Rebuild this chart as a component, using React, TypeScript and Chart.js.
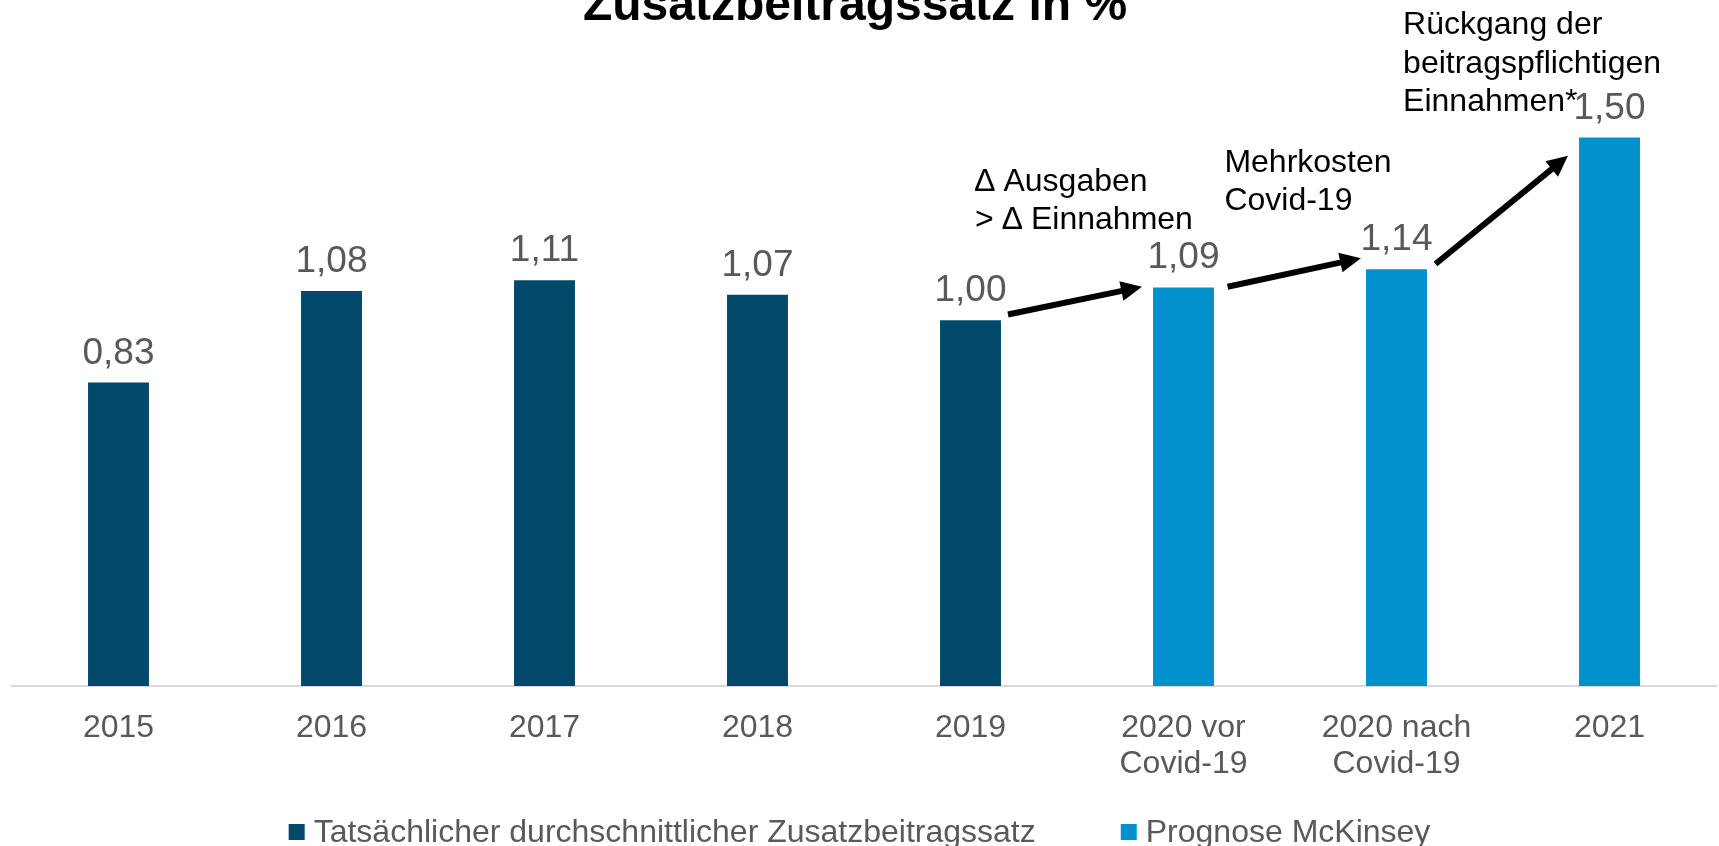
import React, { useEffect, useRef } from "react";
import { Chart, registerables } from "chart.js";

Chart.register(...registerables);

// ---- data ----
const categories: (string | string[])[] = [
  "2015",
  "2016",
  "2017",
  "2018",
  "2019",
  ["2020 vor", "Covid-19"],
  ["2020 nach", "Covid-19"],
  "2021",
];
const actualLabel = "Tatsächlicher durchschnittlicher Zusatzbeitragssatz";
const forecastLabel = "Prognose McKinsey";
const actualValues: (number | null)[] = [0.83, 1.08, 1.11, 1.07, 1.0, null, null, null];
const forecastValues: (number | null)[] = [null, null, null, null, null, 1.09, 1.14, 1.5];
const titleText = "Zusatzbeitragssatz in %";

// annotation texts, anchored at [category index, value of first baseline]
const annotationTexts = [
  { lines: ["∆ Ausgaben", "> ∆ Einnahmen"], at: [4.021, 1.355] },
  { lines: ["Mehrkosten", "Covid-19"], at: [5.192, 1.407] },
  { lines: ["Rückgang der", "beitragspflichtigen", "Einnahmen*"], at: [6.031, 1.782] },
];
// arrows, in [category index, value]
const arrows = [
  { from: [4.176, 1.016], to: [4.805, 1.092] },
  { from: [5.207, 1.092], to: [5.833, 1.17] },
  { from: [6.183, 1.154], to: [6.805, 1.45] },
];

// ---- styles ----
const FONT = '"Liberation Sans", Arial, Helvetica, sans-serif';
const DARK = "#01486A";
const LIGHT = "#0091CD";
const GREY_TEXT = "#595959";
const TITLE_SHIFT = -9;

const overlayPlugin = {
  id: "overlay",
  afterLayout(chart: any) {
    const t = chart.titleBlock;
    if (t) {
      t.left += TITLE_SHIFT;
      t.right += TITLE_SHIFT;
    }
  },
  afterDraw(chart: any) {
    const ctx: CanvasRenderingContext2D = chart.ctx;
    const xs = chart.scales.x;
    const ys = chart.scales.y;
    ctx.save();

    // value labels
    ctx.font = `37px ${FONT}`;
    ctx.fillStyle = GREY_TEXT;
    ctx.textAlign = "center";
    ctx.textBaseline = "alphabetic";
    chart.data.datasets.forEach((ds: any, di: number) => {
      const meta = chart.getDatasetMeta(di);
      meta.data.forEach((el: any, i: number) => {
        const v = ds.data[i];
        if (v === null || v === undefined) return;
        ctx.fillText(Number(v).toFixed(2).replace(".", ","), el.x, el.y - 19);
      });
    });

    // annotation texts
    ctx.fillStyle = "#000";
    ctx.font = `32px ${FONT}`;
    ctx.textAlign = "left";
    annotationTexts.forEach((a) => {
      const px = xs.getPixelForValue(a.at[0]);
      const py = ys.getPixelForValue(a.at[1]);
      a.lines.forEach((l, k) => ctx.fillText(l, px, py + k * 38.5));
    });

    // arrows
    ctx.strokeStyle = "#000";
    ctx.lineWidth = 6;
    ctx.lineCap = "butt";
    arrows.forEach((a) => {
      const x1 = xs.getPixelForValue(a.from[0]);
      const y1 = ys.getPixelForValue(a.from[1]);
      const x2 = xs.getPixelForValue(a.to[0]);
      const y2 = ys.getPixelForValue(a.to[1]);
      const ang = Math.atan2(y2 - y1, x2 - x1);
      const c = Math.cos(ang);
      const s = Math.sin(ang);
      const hl = 21;
      const hw = 10;
      const bx = x2 - hl * c;
      const by = y2 - hl * s;
      ctx.beginPath();
      ctx.moveTo(x1, y1);
      ctx.lineTo(bx + c * 2, by + s * 2);
      ctx.stroke();
      ctx.beginPath();
      ctx.moveTo(x2, y2);
      ctx.lineTo(bx - hw * s, by + hw * c);
      ctx.lineTo(bx + hw * s, by - hw * c);
      ctx.closePath();
      ctx.fill();
    });

    // legend
    const box = 16;
    const boxGap = 9;
    const itemGap = 85;
    ctx.font = `32px ${FONT}`;
    const items = chart.data.datasets.map((ds: any) => ({
      text: ds.label as string,
      color: ds.backgroundColor as string,
      w: ctx.measureText(ds.label).width,
    }));
    const total =
      items.reduce((acc: number, it: any) => acc + box + boxGap + it.w, 0) +
      itemGap * (items.length - 1);
    let lx = chart.width / 2 - total / 2;
    const baseY = 842;
    ctx.textAlign = "left";
    ctx.textBaseline = "alphabetic";
    items.forEach((it: any) => {
      ctx.fillStyle = it.color;
      ctx.fillRect(lx, baseY - 18, box, box);
      ctx.fillStyle = GREY_TEXT;
      ctx.fillText(it.text, lx + box + boxGap, baseY);
      lx += box + boxGap + it.w + itemGap;
    });

    ctx.restore();
  },
};

export default function App() {
  const canvasRef = useRef<HTMLCanvasElement | null>(null);

  useEffect(() => {
    document.body.style.margin = "0";
    document.body.style.overflow = "hidden";
    const canvas = canvasRef.current;
    if (!canvas) return;
    const chart = new Chart(canvas, {
      type: "bar",
      data: {
        labels: categories as any,
        datasets: [
          {
            label: actualLabel,
            data: actualValues as any,
            backgroundColor: DARK,
            grouped: false,
            barPercentage: 0.286,
            categoryPercentage: 1,
          } as any,
          {
            label: forecastLabel,
            data: forecastValues as any,
            backgroundColor: LIGHT,
            grouped: false,
            barPercentage: 0.286,
            categoryPercentage: 1,
          } as any,
        ],
      },
      options: {
        responsive: false,
        animation: false,
        layout: { padding: { top: -17.6, left: 12, right: 3, bottom: 40 } },
        plugins: {
          legend: { display: false },
          tooltip: { enabled: false },
          title: {
            display: true,
            text: titleText,
            color: "#000",
            font: { family: FONT, size: 48, weight: "bold", lineHeight: 1 },
            padding: { top: 0, bottom: 34 },
          },
        },
        scales: {
          x: {
            grid: { display: false, drawTicks: false },
            border: { display: true, color: "#d9d9d9", width: 2 },
            ticks: {
              color: GREY_TEXT,
              font: { family: FONT, size: 32, lineHeight: 1.125 },
              padding: 24,
              maxRotation: 0,
              autoSkip: false,
            },
          },
          y: { display: false, min: 0, max: 1.7 },
        },
      },
      plugins: [overlayPlugin],
    });
    return () => chart.destroy();
  }, []);

  return (
    <div style={{ width: 1719, height: 846 }}>
      <canvas ref={canvasRef} width={1719} height={846} style={{ display: "block" }} />
    </div>
  );
}
